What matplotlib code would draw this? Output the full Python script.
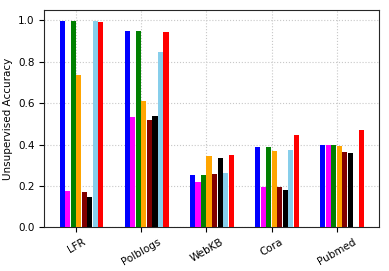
import matplotlib
matplotlib.use('Agg')
import matplotlib.pyplot as plt
import numpy as np

datasets = ['LFR', 'Polblogs', 'WebKB', 'Cora', 'Pubmed']

# una lista por metodo (8 metodos)
m1 = [0.994, 0.950, 0.253, 0.388, 0.398]
m2 = [0.176, 0.534, 0.219, 0.195, 0.398]
m3 = [0.994, 0.950, 0.253, 0.388, 0.398]
m4 = [0.737, 0.611, 0.345, 0.369, 0.393]
m5 = [0.171, 0.520, 0.258, 0.195, 0.364]
m6 = [0.147, 0.539, 0.335, 0.181, 0.359]
m7 = [0.998, 0.848, 0.263, 0.374, 0.0]
m8 = [0.989, 0.945, 0.350, 0.447, 0.471]

colores = ['blue', 'magenta', 'green', 'orange', 'maroon', 'black', 'skyblue', 'red']
metodos = [m1, m2, m3, m4, m5, m6, m7, m8]

x = np.arange(len(datasets))
w = 0.085

fig = plt.figure(figsize=(3.89, 2.71), dpi=100)
ax = fig.add_axes([0.114, 0.161, 0.861, 0.801])
for i, vals in enumerate(metodos):
    ax.bar(x + (i - 3) * w, vals, width=w * 0.92, align='edge', color=colores[i], zorder=3)

ax.set_xticks(x)
ax.set_xticklabels(datasets, rotation=30, fontsize=7.5)
ax.set_yticks(np.arange(0, 1.01, 0.2))
ax.tick_params(axis='y', labelsize=7.5)
ax.set_ylabel('Unsupervised Accuracy', fontsize=7.5)
ax.grid(linestyle=':', color='#c8c8c8', zorder=0)
for s in ax.spines.values():
    s.set_color('#262626')
fig.savefig('out.png', dpi=100)
